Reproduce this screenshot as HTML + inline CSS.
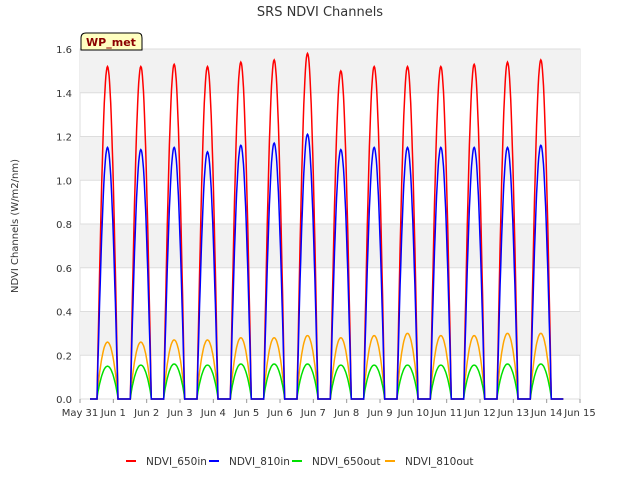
<!DOCTYPE html>
<html><head><meta charset="utf-8"><style>
body{margin:0;background:#fff;font-family:"Liberation Sans","DejaVu Sans",sans-serif}
svg text{font-family:"DejaVu Sans","Liberation Sans",sans-serif}
</style></head><body>
<svg id="chart" width="640" height="480" xmlns="http://www.w3.org/2000/svg">
<text x="320" y="16" text-anchor="middle" font-size="13" fill="#333">SRS NDVI Channels</text>
<g id="bands"></g><g id="grid"></g><g id="series"></g><g id="axes"></g>
<text transform="translate(18,226) rotate(-90)" text-anchor="middle" font-size="10" fill="#333">NDVI Channels (W/m2/nm)</text>
<g>
<path d="M81,50 L81,38 Q81,33 86,33 L138,33 Q142,33 142,38 L142,50 Z" fill="#ffffc0" stroke="#000" stroke-width="1"/>
<text x="111" y="46" text-anchor="middle" font-size="11" font-weight="bold" fill="#8b0000">WP_met</text></g>
<g id="legend"></g>
</svg>
<script>
const dayLabels=["May 31","Jun 1","Jun 2","Jun 3","Jun 4","Jun 5","Jun 6","Jun 7","Jun 8","Jun 9","Jun 10","Jun 11","Jun 12","Jun 13","Jun 14","Jun 15"];
const yTicks=[0,0.2,0.4,0.6,0.8,1.0,1.2,1.4,1.6];
const peak650in=[1.52,1.52,1.53,1.52,1.54,1.55,1.58,1.50,1.52,1.52,1.52,1.53,1.54,1.55];
const peak810in=[1.15,1.14,1.15,1.13,1.16,1.17,1.21,1.14,1.15,1.15,1.15,1.15,1.15,1.16];
const peak650out=[0.15,0.155,0.16,0.155,0.16,0.16,0.16,0.155,0.155,0.155,0.155,0.155,0.16,0.16];
const peak810out=[0.26,0.26,0.27,0.27,0.28,0.28,0.29,0.28,0.29,0.30,0.29,0.29,0.30,0.30];
const NS="http://www.w3.org/2000/svg";
const X0=80,X1=580,Y0=399,Y1=49;
const xs=d=>X0+d*(X1-X0)/15;
const ys=v=>Y0-v*(Y0-Y1)/1.6;
function mk(t,a,p){const e=document.createElementNS(NS,t);for(const k in a)e.setAttribute(k,a[k]);p.appendChild(e);return e;}
const bands=document.getElementById('bands'),grid=document.getElementById('grid'),axes=document.getElementById('axes');
mk('rect',{x:X0,y:Y1,width:X1-X0,height:Y0-Y1,fill:'#fff',stroke:'#ddd'},bands);
for(let i=1;i<yTicks.length-1;i+=2){const r=mk('rect',{x:X0,y:ys(yTicks[i+1]),width:X1-X0,height:ys(yTicks[i])-ys(yTicks[i+1]),fill:'#f2f2f2'},bands);

}
yTicks.forEach(v=>{
 const l=mk('line',{x1:X0,x2:X1,y1:ys(v),y2:ys(v),stroke:'#ddd'},grid);
 
 
 const t=mk('text',{x:X0-8,y:ys(v)+4,'text-anchor':'end','font-size':10,fill:'#333'},axes);t.textContent=v.toFixed(1);
 
 
});
dayLabels.forEach((s,i)=>{
 const t=mk('text',{x:xs(i),y:Y0+17,'text-anchor':'middle','font-size':10,fill:'#333'},axes);t.textContent=s;
 
 
 mk('line',{x1:xs(i),x2:xs(i),y1:Y0,y2:Y0+4,stroke:'#999'},axes);
});
const series=document.getElementById('series');
function draw(peaks,color,pw,name){
 let d="";
 const pts=[];
 pts.push([0.3,0]);
 peaks.forEach((p,i)=>{
  const s=i+0.51,e=i+1.14;
  pts.push([s,0]);
  for(let k=0;k<=40;k++){const f=k/40;const v=p*Math.pow(Math.sin(Math.PI*f),pw);pts.push([s+f*(e-s),v]);}
  pts.push([i+1.5,0]);
 });
 pts.forEach((q,j)=>{d+=(j?"L":"M")+xs(q[0]).toFixed(1)+","+ys(q[1]).toFixed(1);});
 const p=mk('path',{d:d,fill:'none',stroke:color,'stroke-width':1.5},series);
 
 
}
draw(peak810out,'orange',0.8,'series-ndvi-810out');
draw(peak650out,'#00e000',0.8,'series-ndvi-650out');
draw(peak650in,'red',1.0,'series-ndvi-650in');
draw(peak810in,'blue',1.0,'series-ndvi-810in');
const leg=document.getElementById('legend');
const items=[["NDVI_650in","red"],["NDVI_810in","blue"],["NDVI_650out","#00e000"],["NDVI_810out","orange"]];
const lx=[126,209,292,385];
items.forEach((it,i)=>{
 const g=mk('g',{},leg);
 
 
 mk('line',{x1:lx[i],x2:lx[i]+10,y1:461,y2:461,stroke:it[1],'stroke-width':2},g);
 const t=mk('text',{x:lx[i]+20,y:465,'font-size':10.5,fill:'#333'},g);t.textContent=it[0];
});
</script>
</body></html>
